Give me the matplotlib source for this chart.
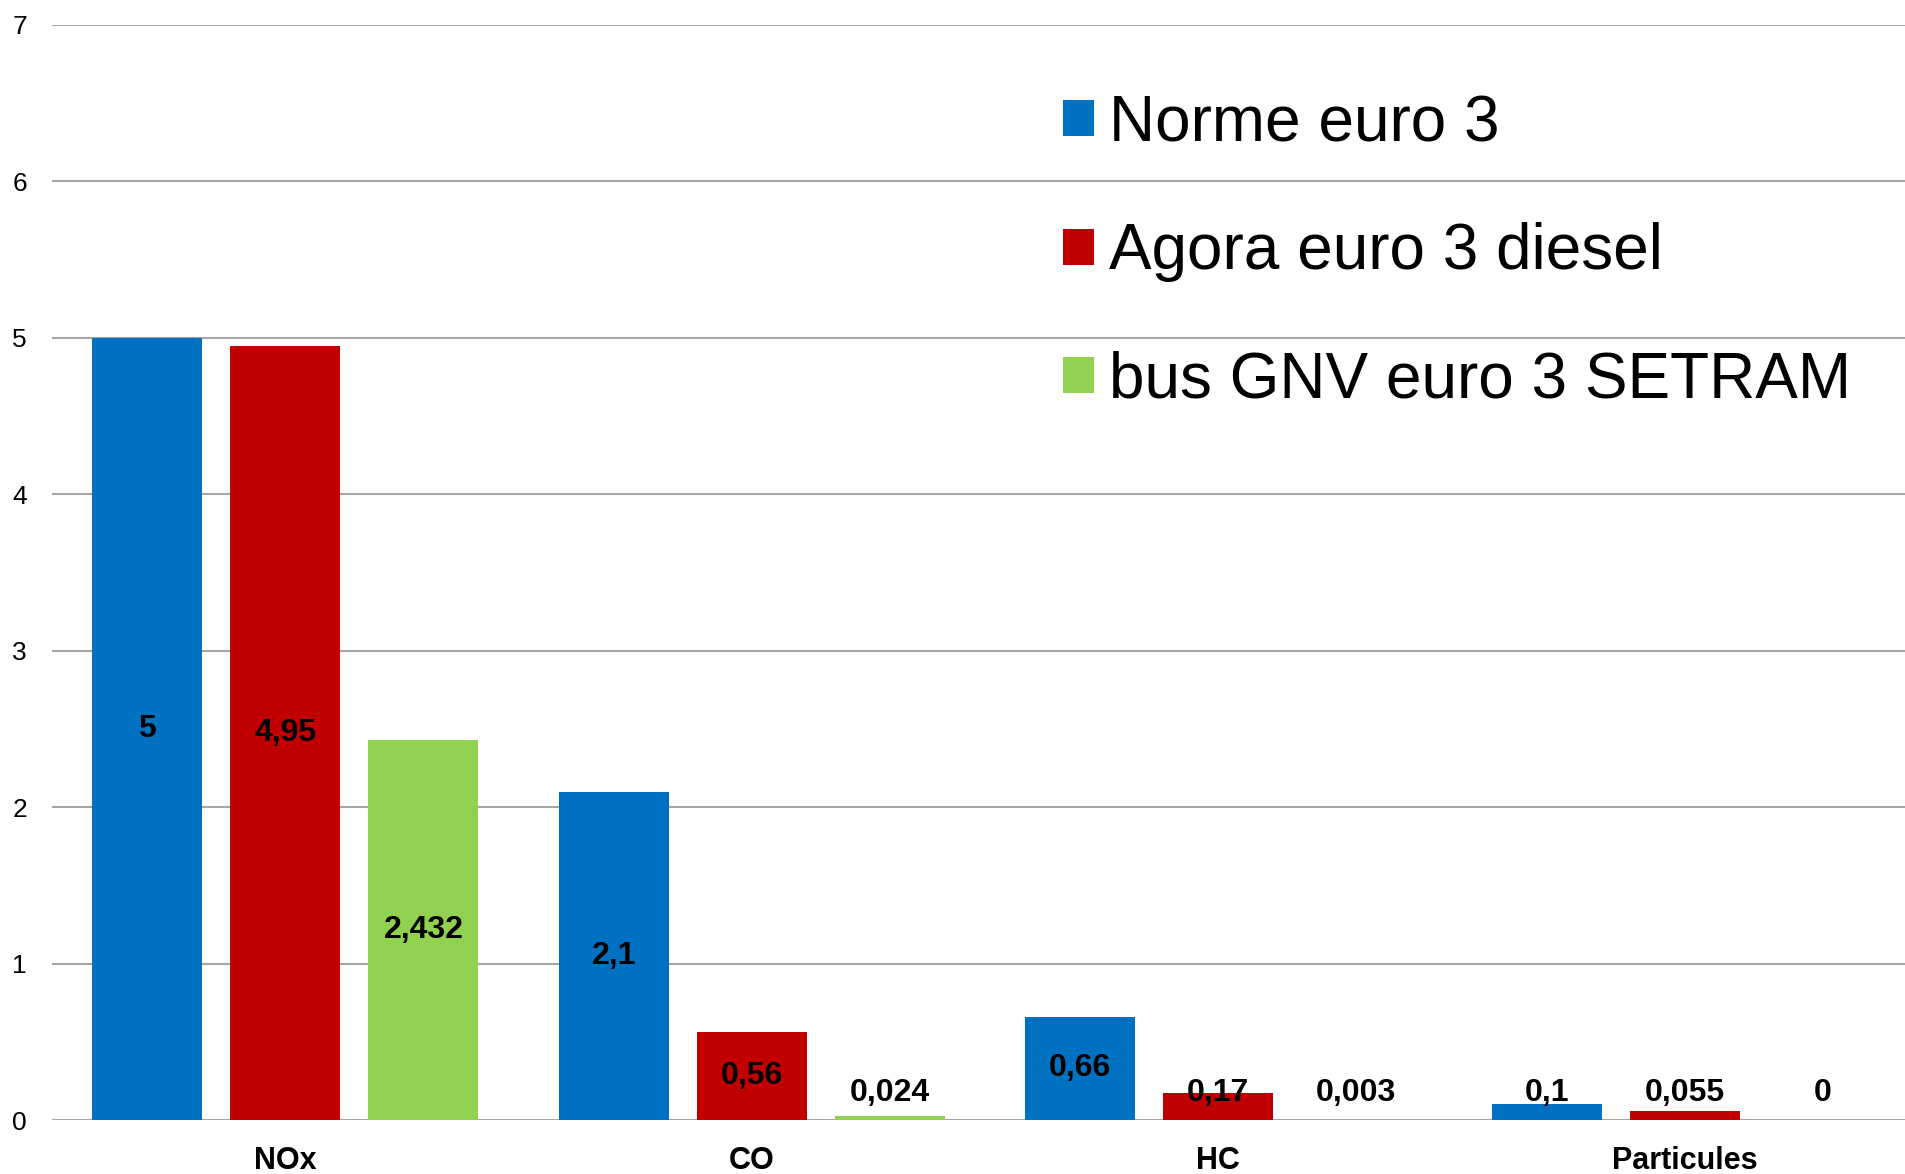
import numpy as np
import matplotlib
matplotlib.use("Agg")
import matplotlib.pyplot as plt
from matplotlib.patches import Patch

# ── DATA ───────────────────────────────────────────────────────────────────────
categories = ["NOx", "CO", "HC", "Particules"]
series     = ["Norme euro 3", "Agora euro 3 diesel", "bus GNV euro 3 SETRAM"]
norme      = [5, 2.1, 0.66, 0.1]
agora      = [4.95, 0.56, 0.17, 0.055]
gnv        = [2.432, 0.024, 0.003, 0]
yticks     = [0, 1, 2, 3, 4, 5, 6, 7]

BLUE  = '#0070C0'
RED   = '#C00000'
GREEN = '#92D050'
GRID  = '#A6A6A6'

plt.rcParams['font.family'] = ['Liberation Sans', 'DejaVu Sans']

W, H = 1905, 1174
fig = plt.figure(figsize=(W / 100, H / 100), dpi=100)
# plot area runs a bit past the right edge of the picture
ax = fig.add_axes([52 / W, 1 - 1120 / H, 1866 / W, (1120 - 25) / H])

x      = np.arange(len(categories))
width  = 0.2355
offset = 0.296

for i, (vals, col) in enumerate(zip([norme, agora, gnv], [BLUE, RED, GREEN])):
    xs = x + (i - 1) * offset
    ax.bar(xs, vals, width, color=col, zorder=3)
    for xi, v in zip(xs, vals):
        lbl = f"{v:g}".replace('.', ',')
        ax.text(xi, max(v / 2, 0.175), lbl, ha='center', va='center',
                fontsize=23, fontweight='bold', color='black', zorder=4)

ax.set_xlim(-0.5, len(categories) - 0.5)
ax.set_ylim(0, 7)
ax.set_yticks(yticks)
ax.set_yticklabels([str(t) for t in yticks], fontsize=19)
ax.set_xticks(x)
ax.set_xticklabels(categories, fontsize=22, fontweight='bold')
ax.tick_params(axis='y', length=0, pad=18)
ax.tick_params(axis='x', length=0, pad=19)
ax.yaxis.grid(True, color=GRID, linewidth=1.5, zorder=0)
for s in ax.spines.values():
    s.set_visible(False)

handles = [Patch(facecolor=c) for c in [BLUE, RED, GREEN]]
fig.legend(handles, series, loc='upper left',
           bbox_to_anchor=(1063 / W, 1 - 94 / H), bbox_transform=fig.transFigure,
           frameon=False, fontsize=46, handlelength=0.49, handleheight=0.49,
           handletextpad=0.23, labelspacing=1.07, borderpad=0, borderaxespad=0)

plt.savefig('out.png', dpi=100, facecolor='white')
plt.close()
